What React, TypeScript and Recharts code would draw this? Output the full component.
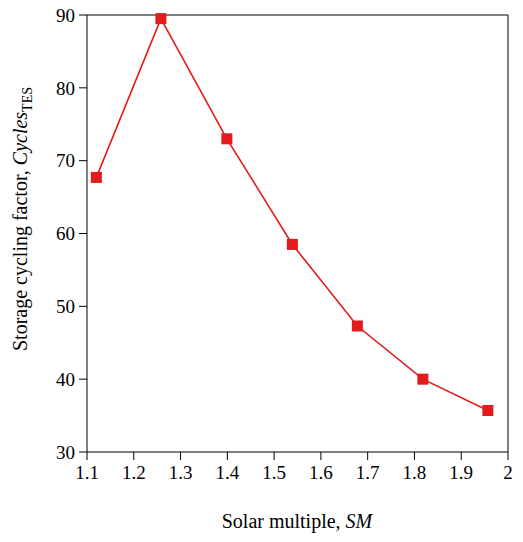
import { LineChart, Line, XAxis, YAxis, ReferenceLine } from 'recharts';

// solar multiple vs storage cycling factor
const solarMultiple = [1.12, 1.258, 1.399, 1.539, 1.678, 1.818, 1.957];
const cyclesTES = [67.7, 89.5, 73.0, 58.5, 47.3, 40.0, 35.7];
const xTicks = [1.1, 1.2, 1.3, 1.4, 1.5, 1.6, 1.7, 1.8, 1.9, 2];
const yTicks = [30, 40, 50, 60, 70, 80, 90];

const data = solarMultiple.map((sm, i) => ({ sm, cycles: cyclesTES[i] }));

const RED = '#e41a1c';
const FONT = '"Times New Roman", "Liberation Serif", serif';

const SquareDot = (props: any) => {
    const { cx, cy } = props;
    if (cx == null || cy == null) return null;
    return <rect x={cx - 5.5} y={cy - 5.5} width={11} height={11} fill={RED} />;
};

export default function App() {
    const tickStyle = { fill: '#000', fontSize: 19, fontFamily: FONT };
    return (
        <div style={{ position: 'relative', width: 523, height: 542, background: '#fff', fontFamily: FONT }}>
            <style>{`body{margin:0}`}</style>
            <LineChart
                width={523}
                height={542}
                data={data}
                margin={{ top: 15, right: 15, bottom: 60, left: 27 }}
            >
                <XAxis
                    dataKey="sm"
                    type="number"
                    domain={[1.1, 2]}
                    ticks={xTicks}
                    height={30}
                    stroke="#000"
                    tick={tickStyle}
                    tickSize={8}
                    tickMargin={6}
                />
                <YAxis
                    type="number"
                    domain={[30, 90]}
                    ticks={yTicks}
                    width={60}
                    stroke="#000"
                    tick={tickStyle}
                    tickSize={8}
                    tickMargin={4}
                />
                <ReferenceLine y={90} stroke="#000" />
                <ReferenceLine x={2} stroke="#000" />
                <Line
                    type="linear"
                    dataKey="cycles"
                    stroke={RED}
                    strokeWidth={1.6}
                    dot={<SquareDot />}
                    activeDot={false}
                    isAnimationActive={false}
                />
            </LineChart>
            <div
                style={{
                    position: 'absolute',
                    left: 0,
                    width: 594,
                    top: 511,
                    fontSize: 20,
                    lineHeight: '20px',
                    textAlign: 'center',
                    whiteSpace: 'nowrap'
                }}
            >
                Solar multiple, <i>SM</i>
            </div>
            <div
                style={{
                    position: 'absolute',
                    left: -180,
                    top: 207,
                    width: 400,
                    height: 24,
                    fontSize: 20,
                    lineHeight: '24px',
                    textAlign: 'center',
                    whiteSpace: 'nowrap',
                    transform: 'rotate(-90deg)'
                }}
            >
                Storage cycling factor, <i>Cycles</i>
                <span style={{ fontSize: 14, verticalAlign: -5 }}>TES</span>
            </div>
        </div>
    );
}
